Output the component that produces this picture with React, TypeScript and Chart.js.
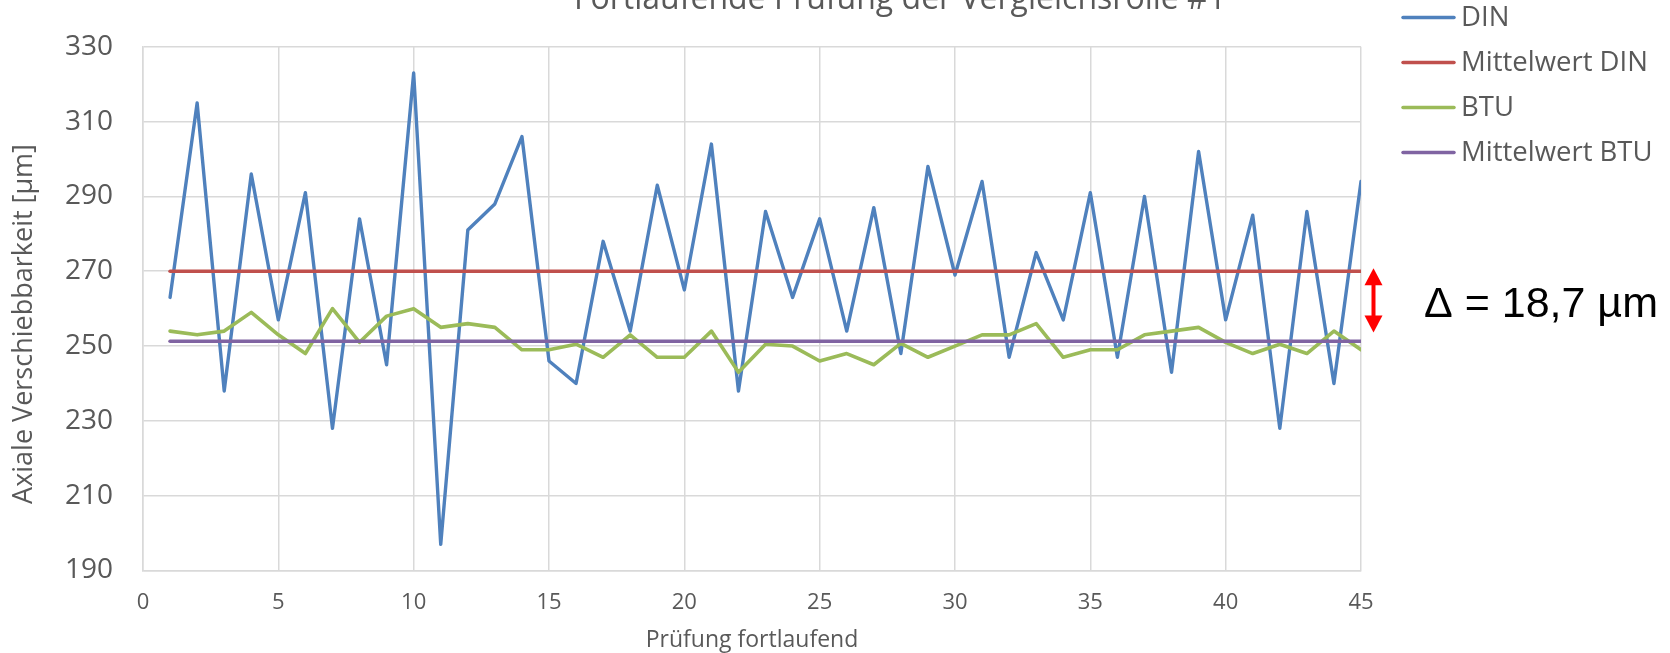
import { useEffect, useRef } from 'react';
import { Chart, registerables } from 'chart.js';

Chart.register(...registerables);

const trials = [
  1, 2, 3, 4, 5, 6, 7, 8, 9, 10, 11, 12, 13, 14, 15, 16, 17, 18, 19, 20, 21, 22, 23,
  24, 25, 26, 27, 28, 29, 30, 31, 32, 33, 34, 35, 36, 37, 38, 39, 40, 41, 42, 43, 44, 45,
];

const dinValues = [
  263, 315, 238, 296, 257, 291, 228, 284, 245, 323, 197, 281, 288, 306, 246, 240, 278,
  254, 293, 265, 304, 238, 286, 263, 284, 254, 287, 248, 298, 269, 294, 247, 275, 257,
  291, 247, 290, 243, 302, 257, 285, 228, 286, 240, 294,
];

const btuValues = [
  254, 253, 254, 259, 253, 248, 260, 251, 258, 260, 255, 256, 255, 249, 249, 250.5, 247,
  253, 247, 247, 254, 243, 250.5, 250, 246, 248, 245, 250.7, 247, 250, 253, 253, 256, 247,
  249, 249, 253, 254, 255, 251, 248, 250.5, 248, 254, 249,
];

const dinMean = 270.0;
const btuMean = 251.3;

const xTicks = [0, 5, 10, 15, 20, 25, 30, 35, 40, 45];
const yTicks = [190, 210, 230, 250, 270, 290, 310, 330];

const seriesLabels = ['DIN', 'Mittelwert DIN', 'BTU', 'Mittelwert BTU'];
const seriesColors = ['#4F81BD', '#C0504D', '#9BBB59', '#8064A2'];

const chartTitle = 'Fortlaufende Prüfung der Vergleichsrolle #1';
const xTitle = 'Prüfung fortlaufend';
const yTitle = 'Axiale Verschiebbarkeit [µm]';
const deltaLabel = 'Δ = 18,7 µm';
const arrowTopValue = 270.8;
const arrowBottomValue = 253.6;

const W = 1670;
const H = 653;
const AREA_LEFT = 143;
const AREA_RIGHT = 1361;
const AREA_TOP = 43.4;
const AREA_BOTTOM = 570.5;
const TEXT_GRAY = '#595959';
const GRID = '#D9D9D9';

const decorPlugin = {
  id: 'decor',
  afterDraw(chart: any) {
    const ctx = chart.ctx as CanvasRenderingContext2D;
    const area = chart.chartArea;
    const yScale = chart.scales.y;

    // title
    ctx.save();
    ctx.fillStyle = TEXT_GRAY;
    ctx.font = '32px "Open Sans"';
    ctx.textAlign = 'center';
    ctx.textBaseline = 'alphabetic';
    ctx.fillText(chartTitle, 900, 9);
    ctx.restore();

    // y axis title
    ctx.save();
    ctx.fillStyle = TEXT_GRAY;
    ctx.font = '27px "Open Sans"';
    ctx.translate(24, 324);
    ctx.rotate(-Math.PI / 2);
    ctx.textAlign = 'center';
    ctx.textBaseline = 'middle';
    ctx.fillText(yTitle, 0, 0);
    ctx.restore();

    // legend
    ctx.save();
    ctx.font = '27.5px "Open Sans"';
    ctx.textAlign = 'left';
    ctx.textBaseline = 'middle';
    chart.data.datasets.forEach((ds: any, i: number) => {
      const y = 17.5 + 45 * i;
      ctx.strokeStyle = ds.borderColor;
      ctx.lineWidth = 3.5;
      ctx.lineCap = 'round';
      ctx.beginPath();
      ctx.moveTo(1403, y);
      ctx.lineTo(1454, y);
      ctx.stroke();
      ctx.fillStyle = TEXT_GRAY;
      ctx.fillText(ds.label, 1461, y + 1);
    });
    ctx.restore();

    // delta arrow
    const ax = area.right + 12.5;
    const yTop = yScale.getPixelForValue(arrowTopValue);
    const yBot = yScale.getPixelForValue(arrowBottomValue);
    const headL = 17;
    const headW = 9;
    ctx.save();
    ctx.fillStyle = '#FF0000';
    ctx.strokeStyle = '#FF0000';
    ctx.lineWidth = 4;
    ctx.beginPath();
    ctx.moveTo(ax, yTop + headL - 1);
    ctx.lineTo(ax, yBot - headL + 1);
    ctx.stroke();
    ctx.beginPath();
    ctx.moveTo(ax, yTop);
    ctx.lineTo(ax + headW, yTop + headL);
    ctx.lineTo(ax - headW, yTop + headL);
    ctx.closePath();
    ctx.fill();
    ctx.beginPath();
    ctx.moveTo(ax, yBot);
    ctx.lineTo(ax + headW, yBot - headL);
    ctx.lineTo(ax - headW, yBot - headL);
    ctx.closePath();
    ctx.fill();
    ctx.fillStyle = '#000000';
    ctx.font = '43px "Liberation Sans"';
    ctx.textAlign = 'left';
    ctx.textBaseline = 'alphabetic';
    ctx.fillText(deltaLabel, 1424, 317);
    ctx.restore();
  },
};

export default function App() {
  const canvasRef = useRef<HTMLCanvasElement | null>(null);

  useEffect(() => {
    if (!canvasRef.current) return;
    const toPoints = (vals: number[]) => trials.map((x, i) => ({ x, y: vals[i] }));
    const meanPoints = (m: number) => trials.map((x) => ({ x, y: m }));

    const chart = new Chart(canvasRef.current, {
      type: 'line',
      data: {
        datasets: [
          {
            label: seriesLabels[0],
            data: toPoints(dinValues),
            borderColor: seriesColors[0],
            backgroundColor: seriesColors[0],
            borderWidth: 3.4,
            order: 4,
          },
          {
            label: seriesLabels[1],
            data: meanPoints(dinMean),
            borderColor: seriesColors[1],
            backgroundColor: seriesColors[1],
            borderWidth: 3.6,
            order: 3,
          },
          {
            label: seriesLabels[2],
            data: toPoints(btuValues),
            borderColor: seriesColors[2],
            backgroundColor: seriesColors[2],
            borderWidth: 3.6,
            order: 2,
          },
          {
            label: seriesLabels[3],
            data: meanPoints(btuMean),
            borderColor: seriesColors[3],
            backgroundColor: seriesColors[3],
            borderWidth: 3.6,
            order: 1,
          },
        ],
      },
      options: {
        responsive: false,
        animation: false,
        devicePixelRatio: 1,
        elements: {
          point: { radius: 0, hoverRadius: 0 },
          line: { tension: 0, borderJoinStyle: 'round', borderCapStyle: 'round', fill: false },
        },
        layout: {
          padding: { top: AREA_TOP, right: W - AREA_RIGHT, bottom: 0, left: 0 },
        },
        plugins: {
          legend: { display: false },
          title: { display: false },
          tooltip: { enabled: false },
        },
        scales: {
          x: {
            type: 'linear',
            min: 0,
            max: 45,
            afterBuildTicks: (s: any) => {
              s.ticks = xTicks.map((v) => ({ value: v }));
            },
            afterFit: (s: any) => {
              s.height = H - AREA_BOTTOM;
            },
            grid: { color: GRID, lineWidth: 1.5, drawTicks: false },
            border: { color: GRID, width: 1.5 },
            ticks: {
              color: TEXT_GRAY,
              font: { family: 'Open Sans', size: 22 },
              padding: 19,
              maxRotation: 0,
              autoSkip: false,
            },
            title: {
              display: true,
              text: xTitle,
              color: TEXT_GRAY,
              font: { family: 'Open Sans', size: 23 },
              padding: { top: 0, bottom: -1 },
            },
          },
          y: {
            type: 'linear',
            min: 190,
            max: 330,
            afterBuildTicks: (s: any) => {
              s.ticks = yTicks.map((v) => ({ value: v }));
            },
            afterFit: (s: any) => {
              s.width = AREA_LEFT;
            },
            grid: { color: GRID, lineWidth: 1.5, drawTicks: false },
            border: { color: GRID, width: 1.5 },
            ticks: {
              color: TEXT_GRAY,
              font: { family: 'Open Sans', size: 28 },
              padding: 30,
            },
          },
        },
      },
      plugins: [decorPlugin],
    });
    return () => chart.destroy();
  }, []);

  return (
    <div style={{ position: 'fixed', left: 0, top: 0, width: W, height: H, background: '#fff' }}>
      <canvas ref={canvasRef} width={W} height={H} style={{ display: 'block' }} />
    </div>
  );
}
